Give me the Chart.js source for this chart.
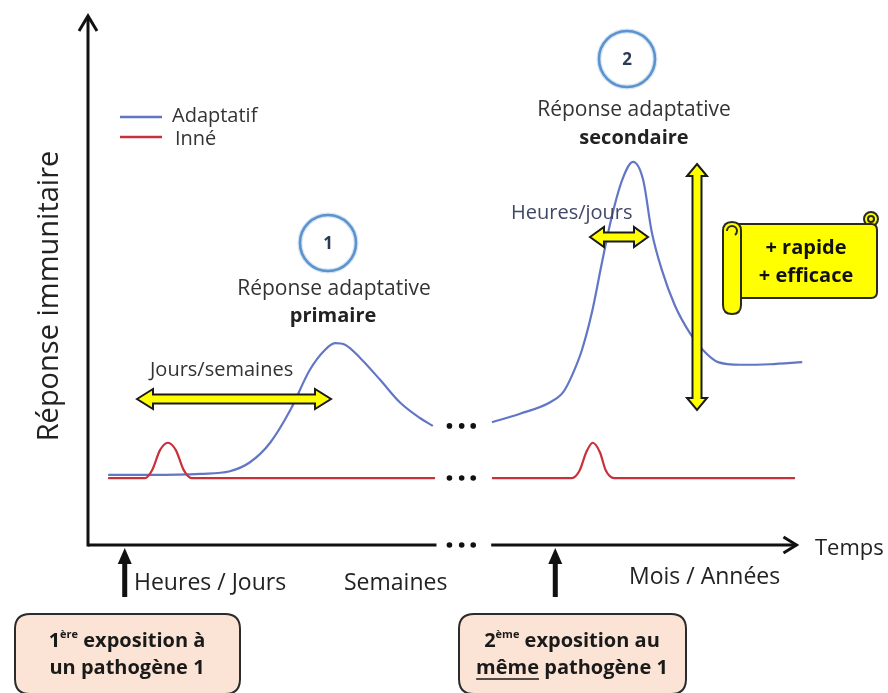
<!DOCTYPE html>
<html lang="fr">
<head>
<meta charset="utf-8">
<title>Réponse immunitaire</title>
<script src="https://cdn.jsdelivr.net/npm/chart.js@4.4.1/dist/chart.umd.min.js"></script>
<style>
  html, body { margin: 0; padding: 0; background: #fff; }
  #wrap { width: 888px; height: 693px; position: relative; }
</style>
</head>
<body>
<div id="wrap"><canvas id="myChart"></canvas></div>
<script>
// time and response are schematic units (0-100), null = break in the time axis
var adaptTime = [2.8, 8.6, 15.6, 19.7, 22.5, 25.3, 28.1, 30.8, 32.9, 34.3, 35.7, 37.8, 40.6, 43.3, 46.1, 47.9,
                 52,
                 56.1, 60.0, 64.2, 66.0, 67.2, 68.6, 70.0, 71.4, 72.8, 74.2, 75.7, 77.1, 78.3, 79.7, 81.5, 83.6, 85.4, 87.5, 90.6, 94.7, 99.2];
var adaptResp = [13.3, 13.3, 13.5, 14.0, 15.7, 19.4, 25.6, 33.2, 37.0, 38.3, 38.0, 35.5, 31.3, 27.1, 24.1, 22.6,
                 null,
                 23.3, 24.9, 27.1, 29.0, 32.1, 37.0, 44.2, 53.7, 62.6, 69.3, 72.7, 69.3, 59.4, 52.2, 45.5, 40.2, 37.0, 34.7, 34.2, 34.3, 34.7];
var innateTime = [2.8, 7.9, 8.9, 10.0, 11.1, 12.2, 13.3, 14.4, 48.2,
                  52,
                  56.1, 67.2, 68.3, 69.2, 70.1, 71.1, 71.9, 73.1, 98.2];
var innateResp = [12.7, 12.7, 14.2, 18.0, 19.4, 18.0, 14.2, 12.7, 12.7,
                  null,
                  12.7, 12.7, 14.2, 17.6, 19.4, 17.6, 14.2, 12.7, 12.7];
var seriesLabels = ["Adaptatif", "Inné"];
var seriesColors = ["#6276c6", "#c8303a"];
var timeLabels = ["Heures / Jours", "Semaines", "Mois / Années"];
var exposureTimes = [5.1, 64.9];
var axisBreak = [48.4, 56.0];

function pts(xs, ys) {
  var out = [];
  for (var i = 0; i < xs.length; i++) out.push({x: xs[i], y: ys[i]});
  return out;
}

var FONT = "'Open Sans', Lato, sans-serif";

function txt(ctx, s, x, y, font, color, align) {
  ctx.font = font;
  ctx.fillStyle = color;
  ctx.textAlign = align || "center";
  ctx.textBaseline = "middle";
  ctx.fillText(s, x, y);
}

// line of text made of parts (for superscripts / underline), centred on cx
function richLine(ctx, parts, cx, y, color) {
  var total = 0;
  parts.forEach(function(p) { ctx.font = p.font; p.w = ctx.measureText(p.t).width; total += p.w; });
  var x = cx - total / 2;
  ctx.fillStyle = color;
  ctx.strokeStyle = color;
  ctx.textAlign = "left";
  ctx.textBaseline = "middle";
  parts.forEach(function(p) {
    ctx.font = p.font;
    ctx.fillText(p.t, x, y + (p.dy || 0));
    if (p.under) {
      ctx.lineWidth = 1.3;
      ctx.beginPath(); ctx.moveTo(x, y + 11); ctx.lineTo(x + p.w, y + 11); ctx.stroke();
    }
    x += p.w;
  });
}

function roundRect(ctx, x, y, w, h, r) {
  ctx.beginPath();
  ctx.moveTo(x + r, y);
  ctx.lineTo(x + w - r, y); ctx.quadraticCurveTo(x + w, y, x + w, y + r);
  ctx.lineTo(x + w, y + h - r); ctx.quadraticCurveTo(x + w, y + h, x + w - r, y + h);
  ctx.lineTo(x + r, y + h); ctx.quadraticCurveTo(x, y + h, x, y + h - r);
  ctx.lineTo(x, y + r); ctx.quadraticCurveTo(x, y, x + r, y);
  ctx.closePath();
}

// yellow double-headed arrow, from (x1,y1) to (x2,y2)
function dblArrow(ctx, x1, y1, x2, y2, sw, hw, hl) {
  var len = Math.hypot(x2 - x1, y2 - y1);
  var ang = Math.atan2(y2 - y1, x2 - x1);
  ctx.save();
  ctx.translate(x1, y1);
  ctx.rotate(ang);
  ctx.beginPath();
  ctx.moveTo(0, 0);
  ctx.lineTo(hl, -hw); ctx.lineTo(hl, -sw);
  ctx.lineTo(len - hl, -sw); ctx.lineTo(len - hl, -hw);
  ctx.lineTo(len, 0);
  ctx.lineTo(len - hl, hw); ctx.lineTo(len - hl, sw);
  ctx.lineTo(hl, sw); ctx.lineTo(hl, hw);
  ctx.closePath();
  ctx.fillStyle = "#ffff00";
  ctx.fill();
  ctx.lineWidth = 2;
  ctx.strokeStyle = "#1a1a1a";
  ctx.lineJoin = "miter";
  ctx.stroke();
  ctx.restore();
}

function upArrow(ctx, x, yBottom, yTop) {
  ctx.fillStyle = "#111";
  ctx.fillRect(x - 2.5, yTop + 12, 5, yBottom - yTop - 12);
  ctx.beginPath();
  ctx.moveTo(x, yTop); ctx.lineTo(x + 7, yTop + 16); ctx.lineTo(x - 7, yTop + 16);
  ctx.closePath(); ctx.fill();
}

function circleNum(ctx, cx, cy, n) {
  ctx.save();
  ctx.beginPath();
  ctx.arc(cx, cy, 28, 0, Math.PI * 2);
  ctx.lineWidth = 5; ctx.strokeStyle = "rgba(91,147,207,0.25)"; ctx.stroke();
  ctx.lineWidth = 2.6; ctx.strokeStyle = "#5b93cf"; ctx.stroke();
  ctx.restore();
  txt(ctx, n, cx, cy + 1, "bold 17px " + FONT, "#2b3a55");
}

function dots(ctx, xs, y) {
  ctx.fillStyle = "#111";
  xs.forEach(function(x) { ctx.beginPath(); ctx.arc(x, y, 2.8, 0, Math.PI * 2); ctx.fill(); });
}

function scroll(ctx, x, y, w, h) {
  ctx.save();
  ctx.fillStyle = "#ffff00";
  ctx.strokeStyle = "#2a2a1a";
  ctx.lineWidth = 2;
  // top-right curl
  ctx.beginPath(); ctx.arc(x + w - 6, y + 1, 7, 0, Math.PI * 2); ctx.fill(); ctx.stroke();
  // body
  roundRect(ctx, x + 6, y + 6, w - 6, h - 12, 6); ctx.fill(); ctx.stroke();
  ctx.beginPath(); ctx.arc(x + w - 6, y + 1, 3, 0, Math.PI * 2); ctx.stroke();
  // left roll
  roundRect(ctx, x - 4, y + 4, 18, h + 6, 9); ctx.fill(); ctx.stroke();
  ctx.beginPath(); ctx.arc(x + 5, y + 13, 5, Math.PI, Math.PI * 2.3); ctx.stroke();
  ctx.restore();
  txt(ctx, "+ rapide", x + w / 2 + 4, y + 30, "bold 20px " + FONT, "#111");
  txt(ctx, "+ efficace", x + w / 2 + 4, y + 58, "bold 20px " + FONT, "#111");
}

var schemaPlugin = {
  id: "schema",
  beforeDatasetsDraw: function(chart) {
    var ctx = chart.ctx, xs = chart.scales.x, ys = chart.scales.y;
    var x0 = xs.getPixelForValue(0), y0 = ys.getPixelForValue(0);
    ctx.save();
    ctx.strokeStyle = "#111";
    ctx.lineWidth = 3;
    ctx.lineCap = "butt";
    // y axis with open arrow
    ctx.beginPath(); ctx.moveTo(x0, y0 + 1.5); ctx.lineTo(x0, ys.getPixelForValue(100) - 2); ctx.stroke();
    var yt = ys.getPixelForValue(100) - 2;
    ctx.beginPath(); ctx.moveTo(x0 - 9, yt + 15); ctx.lineTo(x0, yt); ctx.lineTo(x0 + 9, yt + 15); ctx.stroke();
    // x axis in two parts
    ctx.beginPath(); ctx.moveTo(x0, y0); ctx.lineTo(xs.getPixelForValue(axisBreak[0]), y0); ctx.stroke();
    var xe = xs.getPixelForValue(98.4);
    ctx.beginPath(); ctx.moveTo(xs.getPixelForValue(axisBreak[1]), y0); ctx.lineTo(xe, y0); ctx.stroke();
    ctx.beginPath(); ctx.moveTo(xe - 13, y0 - 8); ctx.lineTo(xe, y0); ctx.lineTo(xe - 13, y0 + 8); ctx.stroke();
    ctx.restore();
  },
  afterDraw: function(chart) {
    var ctx = chart.ctx, xs = chart.scales.x, ys = chart.scales.y;
    var y0 = ys.getPixelForValue(0);
    ctx.save();

    // break dots
    var dx = [xs.getPixelForValue(50.2), xs.getPixelForValue(51.9), xs.getPixelForValue(53.5)];
    dots(ctx, dx, ys.getPixelForValue(22.6));
    dots(ctx, dx, ys.getPixelForValue(12.7));
    dots(ctx, dx, y0);

    // y title
    ctx.save();
    ctx.translate(50, 296);
    ctx.rotate(-Math.PI / 2);
    txt(ctx, "Réponse immunitaire", 0, 0, "29px " + FONT, "#222");
    ctx.restore();

    // legend
    ctx.lineWidth = 2.5;
    ctx.strokeStyle = seriesColors[0];
    ctx.beginPath(); ctx.moveTo(120, 117); ctx.lineTo(162, 117); ctx.stroke();
    ctx.strokeStyle = seriesColors[1];
    ctx.beginPath(); ctx.moveTo(120, 137); ctx.lineTo(162, 137); ctx.stroke();
    txt(ctx, seriesLabels[0], 172, 116, "20px " + FONT, "#333", "left");
    txt(ctx, seriesLabels[1], 175, 139, "20px " + FONT, "#333", "left");

    // time labels
    txt(ctx, "Temps", 815, 549, "22px " + FONT, "#222", "left");
    txt(ctx, timeLabels[0], 134, 583, "23px " + FONT, "#222", "left");
    txt(ctx, timeLabels[1], 344, 583, "23px " + FONT, "#222", "left");
    txt(ctx, timeLabels[2], 629, 577, "23px " + FONT, "#222", "left");

    // exposure arrows
    upArrow(ctx, xs.getPixelForValue(exposureTimes[0]), 597, y0 + 3);
    upArrow(ctx, xs.getPixelForValue(exposureTimes[1]), 597, y0 + 3);

    // exposure boxes
    ctx.fillStyle = "#fbe4d5"; ctx.strokeStyle = "#2b2b2b"; ctx.lineWidth = 2;
    roundRect(ctx, 15, 614, 225, 80, 15); ctx.fill(); ctx.stroke();
    roundRect(ctx, 459, 614, 227, 80, 15); ctx.fill(); ctx.stroke();
    var B = "bold 20px " + FONT, S = "bold 11px " + FONT;
    richLine(ctx, [{t: "1", font: B}, {t: "ère", font: S, dy: -6}, {t: " exposition à", font: B}], 127, 641, "#1a1a1a");
    richLine(ctx, [{t: "un pathogène 1", font: B}], 127, 668, "#1a1a1a");
    richLine(ctx, [{t: "2", font: B}, {t: "ème", font: S, dy: -6}, {t: " exposition au", font: B}], 572, 641, "#1a1a1a");
    richLine(ctx, [{t: "même", font: B, under: true}, {t: " pathogène 1", font: B}], 572, 668, "#1a1a1a");

    // primary response
    circleNum(ctx, 328, 243, "1");
    txt(ctx, "Réponse adaptative", 334, 289, "21px " + FONT, "#333");
    txt(ctx, "primaire", 333, 316, "bold 20px " + FONT, "#222");
    txt(ctx, "Jours/semaines", 150, 370, "20px " + FONT, "#333", "left");
    dblArrow(ctx, 137, 399, 331, 399, 4.5, 10, 16);

    // secondary response
    circleNum(ctx, 627, 59, "2");
    txt(ctx, "Réponse adaptative", 634, 110, "21px " + FONT, "#333");
    txt(ctx, "secondaire", 634, 138, "bold 20px " + FONT, "#222");
    txt(ctx, "Heures/jours", 511, 213, "20px " + FONT, "#3f4866", "left");
    dblArrow(ctx, 590, 237, 648, 237, 4.5, 10, 14);
    dblArrow(ctx, 697, 164, 697, 410, 4.5, 10, 12);

    scroll(ctx, 727, 218, 150, 86);
    ctx.restore();
  }
};

var ctx = document.getElementById("myChart").getContext("2d");
var myChart = new Chart(ctx, {
  type: "line",
  data: {
    datasets: [
      {label: seriesLabels[1], data: pts(innateTime, innateResp), borderColor: seriesColors[1], borderWidth: 2.2},
      {label: seriesLabels[0], data: pts(adaptTime, adaptResp), borderColor: seriesColors[0], borderWidth: 2.2}
    ]
  },
  options: {
    responsive: true,
    maintainAspectRatio: false,
    animation: false,
    spanGaps: false,
    elements: {
      point: {radius: 0},
      line: {cubicInterpolationMode: "monotone", fill: false}
    },
    layout: {padding: {left: 88, right: 80, top: 18, bottom: 148}},
    scales: {
      x: {type: "linear", min: 0, max: 100, display: false},
      y: {type: "linear", min: 0, max: 100, display: false}
    },
    plugins: {
      legend: {display: false},
      tooltip: {enabled: false}
    }
  },
  plugins: [schemaPlugin]
});
</script>
</body>
</html>
